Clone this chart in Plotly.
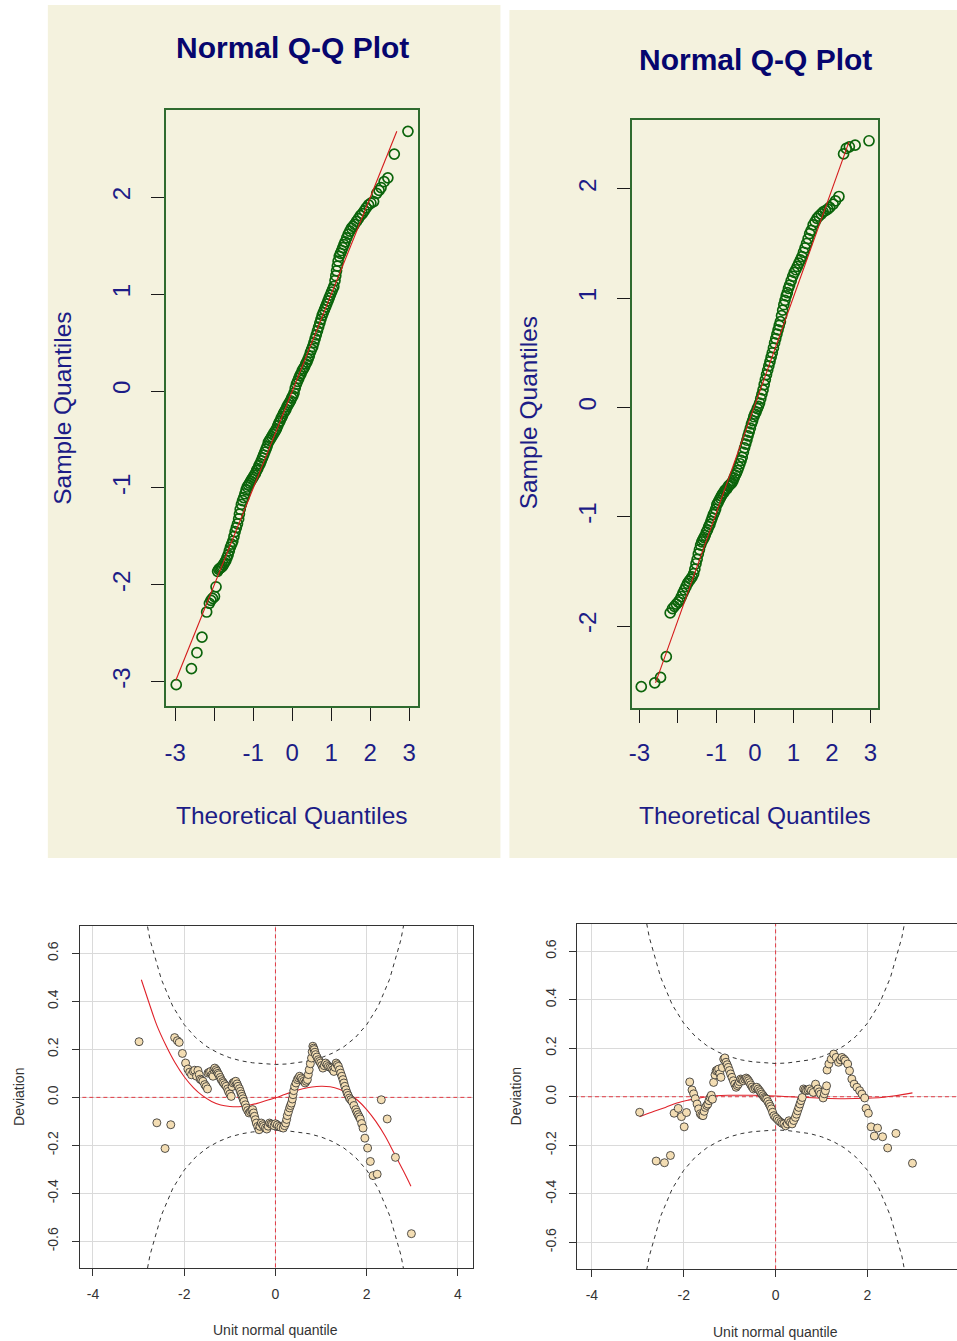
import plotly.graph_objects as go

W, H = 957, 1341

# ---------------- data ----------------
# Normal Q-Q plot, left: theoretical quantile / sample quantile
qq1_x = [-2.97, -2.58, -2.44, -2.31, -2.19, -2.12, -2.08, -2.04, -1.99, -1.95,
         -1.91, -1.88, -1.85, -1.82, -1.79, -1.76, -1.73, -1.70, -1.67, -1.64,
         -1.61, -1.58, -1.55, -1.52, -1.49, -1.46, -1.43, -1.40, -1.37, -1.35,
         -1.33, -1.30, -1.27, -1.24, -1.21, -1.18, -1.15, -1.12, -1.09, -1.06,
         -1.03, -1.00, -0.97, -0.94, -0.91, -0.88, -0.85, -0.82, -0.79, -0.76,
         -0.73, -0.70, -0.67, -0.64, -0.61, -0.58, -0.55, -0.52, -0.49, -0.46,
         -0.43, -0.40, -0.37, -0.34, -0.31, -0.28, -0.25, -0.22, -0.19, -0.16,
         -0.13, -0.10, -0.07, -0.04, -0.01, 0.02, 0.05, 0.08, 0.11, 0.14,
         0.17, 0.20, 0.23, 0.26, 0.29, 0.32, 0.35, 0.38, 0.41, 0.44,
         0.47, 0.50, 0.53, 0.56, 0.59, 0.62, 0.65, 0.68, 0.71, 0.74,
         0.77, 0.80, 0.83, 0.86, 0.89, 0.92, 0.95, 0.98, 1.01, 1.04,
         1.07, 1.10, 1.12, 1.14, 1.16, 1.18, 1.21, 1.24, 1.27, 1.30,
         1.33, 1.36, 1.40, 1.44, 1.48, 1.52, 1.56, 1.60, 1.65, 1.70,
         1.75, 1.80, 1.85, 1.90, 1.96, 2.02, 2.09, 2.17, 2.23, 2.28,
         2.36, 2.455, 2.62, 2.97]
qq1_y = [-3.03, -2.865, -2.70, -2.54, -2.28, -2.19, -2.16, -2.14, -2.12, -2.02,
         -1.86, -1.84, -1.83, -1.82, -1.81, -1.79, -1.77, -1.75, -1.72, -1.69,
         -1.65, -1.61, -1.58, -1.55, -1.50, -1.45, -1.41, -1.37, -1.32, -1.27,
         -1.22, -1.17, -1.13, -1.10, -1.06, -1.02, -0.99, -0.97, -0.95, -0.93,
         -0.91, -0.89, -0.87, -0.85, -0.82, -0.80, -0.77, -0.75, -0.72, -0.69,
         -0.66, -0.63, -0.60, -0.57, -0.53, -0.51, -0.49, -0.47, -0.45, -0.43,
         -0.41, -0.39, -0.36, -0.33, -0.31, -0.28, -0.26, -0.23, -0.21, -0.19,
         -0.16, -0.14, -0.12, -0.10, -0.07, -0.05, -0.02, 0.03, 0.07, 0.10,
         0.13, 0.16, 0.18, 0.21, 0.23, 0.25, 0.28, 0.30, 0.33, 0.36,
         0.40, 0.43, 0.46, 0.50, 0.54, 0.58, 0.62, 0.66, 0.70, 0.74,
         0.78, 0.81, 0.84, 0.87, 0.90, 0.93, 0.96, 0.99, 1.02, 1.05,
         1.08, 1.14, 1.19, 1.24, 1.29, 1.34, 1.39, 1.42, 1.45, 1.48,
         1.51, 1.54, 1.58, 1.62, 1.65, 1.68, 1.70, 1.72, 1.75, 1.78,
         1.81, 1.83, 1.86, 1.89, 1.92, 1.94, 1.955, 2.04, 2.07, 2.10,
         2.16, 2.20, 2.445, 2.68]
qq1_line_x = [-2.98, 2.685]
qq1_line_y = [-2.985, 2.68]

# Normal Q-Q plot, right
qq2_x = [-2.95, -2.60, -2.45, -2.30, -2.20, -2.14, -2.09, -2.04, -1.99, -1.95,
         -1.91, -1.87, -1.83, -1.79, -1.75, -1.71, -1.67, -1.63, -1.59, -1.56,
         -1.53, -1.50, -1.47, -1.44, -1.41, -1.38, -1.35, -1.32, -1.29, -1.26,
         -1.23, -1.20, -1.17, -1.14, -1.11, -1.08, -1.05, -1.02, -0.99, -0.96,
         -0.93, -0.90, -0.87, -0.84, -0.81, -0.78, -0.75, -0.72, -0.69, -0.66,
         -0.63, -0.60, -0.57, -0.54, -0.51, -0.48, -0.45, -0.42, -0.39, -0.36,
         -0.33, -0.30, -0.27, -0.24, -0.21, -0.18, -0.15, -0.12, -0.09, -0.06,
         -0.03, 0.00, 0.03, 0.06, 0.09, 0.12, 0.15, 0.18, 0.21, 0.24,
         0.27, 0.30, 0.33, 0.36, 0.39, 0.42, 0.45, 0.48, 0.51, 0.54,
         0.57, 0.60, 0.63, 0.66, 0.69, 0.72, 0.75, 0.78, 0.81, 0.84,
         0.87, 0.90, 0.94, 0.98, 1.02, 1.06, 1.10, 1.14, 1.18, 1.22,
         1.26, 1.30, 1.34, 1.38, 1.42, 1.46, 1.51, 1.56, 1.61, 1.66,
         1.72, 1.77, 1.83, 1.89, 1.94, 2.03, 2.09, 2.18, 2.30, 2.37,
         2.45, 2.60, 2.96]
qq2_y = [-2.555, -2.52, -2.47, -2.28, -1.88, -1.84, -1.82, -1.80, -1.78, -1.76,
         -1.73, -1.70, -1.67, -1.64, -1.61, -1.59, -1.57, -1.55, -1.52, -1.48,
         -1.43, -1.39, -1.34, -1.30, -1.26, -1.23, -1.21, -1.19, -1.17, -1.14,
         -1.12, -1.09, -1.07, -1.04, -1.01, -0.98, -0.96, -0.93, -0.89, -0.87,
         -0.85, -0.83, -0.81, -0.79, -0.78, -0.76, -0.75, -0.74, -0.72, -0.71,
         -0.70, -0.69, -0.67, -0.645, -0.62, -0.60, -0.575, -0.545, -0.515, -0.485,
         -0.455, -0.41, -0.37, -0.335, -0.30, -0.26, -0.225, -0.19, -0.15, -0.12,
         -0.085, -0.06, -0.04, -0.01, 0.01, 0.04, 0.08, 0.12, 0.16, 0.21,
         0.255, 0.30, 0.34, 0.38, 0.42, 0.46, 0.50, 0.545, 0.59, 0.63,
         0.67, 0.71, 0.75, 0.785, 0.84, 0.89, 0.94, 0.98, 1.02, 1.05,
         1.09, 1.12, 1.16, 1.20, 1.235, 1.26, 1.29, 1.32, 1.35, 1.38,
         1.42, 1.46, 1.50, 1.545, 1.59, 1.62, 1.67, 1.70, 1.73, 1.75,
         1.77, 1.79, 1.80, 1.815, 1.83, 1.86, 1.89, 1.93, 2.32, 2.37,
         2.385, 2.40, 2.44]
qq2_line_x = [-2.58, 2.44]
qq2_line_y = [-2.52, 2.43]

qq_xticks = [-3, -2, -1, 0, 1, 2, 3]
qq_xtext = ["-3", "", "-1", "0", "1", "2", "3"]
qq1_yticks = [-3, -2, -1, 0, 1, 2]
qq2_yticks = [-2, -1, 0, 1, 2]

# Worm plot, left: unit normal quantile / deviation
wl_x = [-2.99, -2.60, -2.42, -2.295, -2.21, -2.15, -2.11, -2.04, -1.97, -1.92,
        -1.88, -1.84, -1.80, -1.77, -1.73, -1.70, -1.67, -1.65, -1.62, -1.59,
        -1.55, -1.52, -1.49, -1.48, -1.45, -1.42, -1.39, -1.37, -1.35, -1.33,
        -1.30, -1.28, -1.26, -1.24, -1.21, -1.19, -1.16, -1.14, -1.11, -1.08,
        -1.05, -1.03, -1.00, -0.97, -0.95, -0.93, -0.90, -0.87, -0.84, -0.82,
        -0.79, -0.77, -0.75, -0.73, -0.71, -0.69, -0.66, -0.64, -0.61, -0.58,
        -0.55, -0.52, -0.50, -0.48, -0.46, -0.44, -0.42, -0.39, -0.36, -0.34,
        -0.31, -0.28, -0.26, -0.22, -0.19, -0.16, -0.13, -0.10, -0.07, -0.03,
        0.00, 0.04, 0.08, 0.12, 0.17, 0.20, 0.225, 0.245, 0.26, 0.285,
        0.31, 0.33, 0.35, 0.37, 0.385, 0.40, 0.42, 0.45, 0.48, 0.505,
        0.53, 0.56, 0.59, 0.62, 0.65, 0.675, 0.70, 0.72, 0.74, 0.765,
        0.79, 0.805, 0.82, 0.835, 0.85, 0.865, 0.88, 0.91, 0.94, 0.965,
        0.99, 1.015, 1.04, 1.07, 1.10, 1.13, 1.16, 1.195, 1.23, 1.255,
        1.28, 1.305, 1.33, 1.355, 1.38, 1.405, 1.43, 1.455, 1.48, 1.50,
        1.52, 1.545, 1.57, 1.595, 1.62, 1.65, 1.68, 1.72, 1.76, 1.785,
        1.81, 1.835, 1.86, 1.89, 1.92, 1.96, 2.02, 2.08, 2.14, 2.23,
        2.32, 2.45, 2.63, 2.98]
wl_y = [0.232, -0.106, -0.213, -0.114, 0.249, 0.236, 0.229, 0.183, 0.143, 0.118,
        0.105, 0.094, 0.108, 0.113, 0.088, 0.112, 0.095, 0.076, 0.072, 0.067,
        0.053, 0.045, 0.035, 0.101, 0.105, 0.108, 0.095, 0.088, 0.115, 0.122,
        0.115, 0.108, 0.100, 0.094, 0.083, 0.074, 0.066, 0.060, 0.053, 0.046,
        0.035, 0.025, 0.014, 0.004, 0.045, 0.060, 0.064, 0.067, 0.056, 0.046,
        0.036, 0.025, 0.014, 0.004, -0.006, -0.017, -0.031, -0.044, -0.055, -0.065,
        -0.060, -0.055, -0.051, -0.065, -0.079, -0.093, -0.107, -0.121, -0.135, -0.121,
        -0.107, -0.114, -0.121, -0.127, -0.132, -0.120, -0.107, -0.111, -0.114, -0.118,
        -0.110, -0.115, -0.121, -0.125, -0.128, -0.118, -0.107, -0.092, -0.076, -0.060,
        -0.044, -0.034, -0.024, -0.007, 0.011, 0.028, 0.046, 0.060, 0.074, 0.081,
        0.088, 0.081, 0.074, 0.067, 0.060, 0.067, 0.074, 0.095, 0.115, 0.140,
        0.164, 0.190, 0.213, 0.205, 0.199, 0.188, 0.178, 0.168, 0.157, 0.150,
        0.143, 0.133, 0.122, 0.132, 0.143, 0.136, 0.129, 0.125, 0.122, 0.115,
        0.108, 0.125, 0.143, 0.136, 0.129, 0.115, 0.101, 0.088, 0.074, 0.060,
        0.046, 0.032, 0.018, 0.008, -0.003, -0.010, -0.017, -0.034, -0.051, -0.062,
        -0.072, -0.081, -0.090, -0.109, -0.128, -0.170, -0.211, -0.267, -0.326, -0.320,
        -0.010, -0.090, -0.250, -0.568]
wl_fit_x = [-2.94, -2.8, -2.6, -2.4, -2.2, -2.0, -1.8, -1.6, -1.4, -1.2, -1.0, -0.8,
            -0.6, -0.4, -0.2, 0.0, 0.2, 0.4, 0.6, 0.8, 1.0, 1.2, 1.4, 1.6, 1.8,
            2.0, 2.2, 2.4, 2.6, 2.8, 2.97]
wl_fit_y = [0.49, 0.41, 0.30, 0.216, 0.144, 0.086, 0.041, 0.007, -0.017, -0.032, -0.038,
            -0.039, -0.034, -0.025, -0.013, -0.002, 0.012, 0.025, 0.036, 0.043, 0.046,
            0.044, 0.034, 0.016, -0.012, -0.051, -0.100, -0.160, -0.232, -0.305, -0.370]

# Worm plot, right
wr_x = [-2.96, -2.60, -2.42, -2.29, -2.21, -2.12, -2.05, -1.99, -1.94, -1.87,
        -1.82, -1.785, -1.75, -1.71, -1.675, -1.64, -1.61, -1.58, -1.555, -1.53,
        -1.50, -1.475, -1.45, -1.425, -1.40, -1.375, -1.35, -1.32, -1.295, -1.27,
        -1.24, -1.215, -1.19, -1.16, -1.13, -1.105, -1.08, -1.055, -1.03, -1.005,
        -0.98, -0.95, -0.92, -0.89, -0.86, -0.835, -0.81, -0.785, -0.76, -0.73,
        -0.70, -0.67, -0.64, -0.615, -0.59, -0.565, -0.54, -0.51, -0.48, -0.445,
        -0.41, -0.38, -0.35, -0.325, -0.30, -0.27, -0.245, -0.22, -0.195, -0.17,
        -0.14, -0.115, -0.09, -0.065, -0.035, 0.0, 0.035, 0.07, 0.11, 0.145,
        0.18, 0.22, 0.255, 0.29, 0.325, 0.36, 0.395, 0.43, 0.455, 0.48,
        0.505, 0.53, 0.555, 0.58, 0.61, 0.64, 0.67, 0.705, 0.74, 0.78,
        0.82, 0.87, 0.92, 0.95, 0.98, 1.035, 1.06, 1.085, 1.11, 1.12,
        1.16, 1.21, 1.265, 1.32, 1.37, 1.41, 1.445, 1.49, 1.52, 1.57,
        1.61, 1.66, 1.71, 1.77, 1.83, 1.88, 1.94, 1.97, 2.02, 2.08,
        2.15, 2.22, 2.33, 2.44, 2.62, 2.98]
wr_y = [-0.064, -0.265, -0.272, -0.242, -0.068, -0.048, -0.082, -0.124, -0.065, 0.061,
        0.028, 0.012, -0.008, -0.030, -0.050, -0.070, -0.076, -0.078, -0.060, -0.044,
        -0.036, -0.030, -0.016, -0.003, 0.006, -0.010, 0.059, 0.090, 0.107, 0.110,
        0.114, 0.095, 0.080, 0.120, 0.155, 0.160, 0.142, 0.132, 0.121, 0.108,
        0.094, 0.080, 0.066, 0.052, 0.039, 0.046, 0.052, 0.062, 0.073, 0.070,
        0.066, 0.072, 0.077, 0.072, 0.066, 0.058, 0.049, 0.040, 0.032, 0.036,
        0.039, 0.032, 0.025, 0.018, 0.011, 0.004, -0.003, -0.007, -0.010, -0.020,
        -0.030, -0.040, -0.050, -0.064, -0.078, -0.085, -0.092, -0.099, -0.105, -0.110,
        -0.112, -0.120, -0.112, -0.099, -0.106, -0.112, -0.098, -0.085, -0.072, -0.058,
        -0.044, -0.030, -0.016, -0.003, 0.032, 0.028, 0.025, 0.028, 0.032, 0.025,
        0.018, 0.052, 0.032, 0.020, 0.011, -0.005, 0.012, 0.025, 0.045, 0.110,
        0.135, 0.155, 0.176, 0.162, 0.142, 0.152, 0.162, 0.155, 0.148, 0.135,
        0.107, 0.073, 0.052, 0.039, 0.025, 0.011, -0.005, -0.048, -0.068, -0.124,
        -0.162, -0.129, -0.165, -0.211, -0.151, -0.274]
wr_fit_x = [-2.96, -2.7, -2.4, -2.15, -1.9, -1.6, -1.3, -1.0, -0.5, 0.0, 0.5, 1.0,
            1.5, 2.0, 2.3, 2.6, 2.98]
wr_fit_y = [-0.082, -0.064, -0.044, -0.026, -0.014, -0.003, 0.004, 0.006, 0.006, 0.003,
            -0.002, -0.006, -0.008, -0.006, -0.003, 0.004, 0.016]

# 95% bands of the worm plots
band_z = [-3.0, -2.75, -2.5, -2.25, -2.0, -1.75, -1.5, -1.25, -1.0, -0.75, -0.5, -0.25,
          0.0, 0.25, 0.5, 0.75, 1.0, 1.25, 1.5, 1.75, 2.0, 2.25, 2.5, 2.75, 3.0]
band_hi = [0.908, 0.657, 0.491, 0.379, 0.303, 0.249, 0.211, 0.184, 0.165, 0.152, 0.144,
           0.139, 0.137, 0.139, 0.144, 0.152, 0.165, 0.184, 0.211, 0.249, 0.303, 0.379,
           0.491, 0.657, 0.908]
band_lo = [-0.908, -0.657, -0.491, -0.379, -0.303, -0.249, -0.211, -0.184, -0.165, -0.152,
           -0.144, -0.139, -0.137, -0.139, -0.144, -0.152, -0.165, -0.184, -0.211, -0.249,
           -0.303, -0.379, -0.491, -0.657, -0.908]

# zero reference lines of the worm plots (clipped by the axes)
zero_span_x = [-5, 5]
zero_span_y = [-1, 1]
zero_pair = [0, 0]

worm_xticks = [-4, -2, 0, 2, 4]
worm_yticks = [-0.6, -0.4, -0.2, 0.0, 0.2, 0.4, 0.6]
worm_ytext = ["-0.6", "-0.4", "-0.2", "0.0", "0.2", "0.4", "0.6"]

# ---------------- styling ----------------
FONT = "Liberation Sans, Arial, sans-serif"
BEIGE = "#F4F2DE"
NAVY = "#1C1C86"
TITLE_NAVY = "#06066E"
QQ_GREEN = "#0B640B"
BOX_GREEN = "#2F6B2F"
LINE_RED = "#D41A1A"
WHEAT = "#F3DDB3"
ZERO_RED = "#E23A44"


def dom_x(a, b):
    return [a / W, min(b / W, 1.0)]


def dom_y(top, bottom):
    return [1 - bottom / H, 1 - top / H]


fig = go.Figure()

# Q-Q panels
for k, (qx, qy, lx, ly) in enumerate([(qq1_x, qq1_y, qq1_line_x, qq1_line_y),
                                      (qq2_x, qq2_y, qq2_line_x, qq2_line_y)]):
    xa, ya = ("x", "y") if k == 0 else ("x2", "y2")
    fig.add_trace(go.Scatter(x=qx, y=qy, mode="markers", xaxis=xa, yaxis=ya,
                             marker=dict(symbol="circle-open", size=10, color=QQ_GREEN,
                                         line=dict(width=1.7, color=QQ_GREEN)),
                             showlegend=False, hoverinfo="skip"))
    fig.add_trace(go.Scatter(x=lx, y=ly, mode="lines", xaxis=xa, yaxis=ya,
                             line=dict(color=LINE_RED, width=1.1),
                             showlegend=False, hoverinfo="skip"))

# worm panels
for k, (wx, wy, fx, fy) in enumerate([(wl_x, wl_y, wl_fit_x, wl_fit_y),
                                      (wr_x, wr_y, wr_fit_x, wr_fit_y)]):
    xa, ya = ("x3", "y3") if k == 0 else ("x4", "y4")
    fig.add_trace(go.Scatter(x=zero_pair, y=zero_span_y, mode="lines", xaxis=xa, yaxis=ya,
                             line=dict(color=ZERO_RED, width=1, dash="4px,3px"),
                             showlegend=False, hoverinfo="skip"))
    fig.add_trace(go.Scatter(x=zero_span_x, y=zero_pair, mode="lines", xaxis=xa, yaxis=ya,
                             line=dict(color=ZERO_RED, width=1, dash="4px,3px"),
                             showlegend=False, hoverinfo="skip"))
    for band in (band_hi, band_lo):
        fig.add_trace(go.Scatter(x=band_z, y=band, mode="lines", xaxis=xa, yaxis=ya,
                                 line=dict(color="#333333", width=1, dash="4px,4px"),
                                 showlegend=False, hoverinfo="skip"))
    fig.add_trace(go.Scatter(x=fx, y=fy, mode="lines", xaxis=xa, yaxis=ya,
                             line=dict(color="#E0232B", width=1.1, shape="spline"),
                             showlegend=False, hoverinfo="skip"))
    fig.add_trace(go.Scatter(x=wx, y=wy, mode="markers", xaxis=xa, yaxis=ya,
                             marker=dict(symbol="circle", size=8, color=WHEAT,
                                         line=dict(width=0.8, color="#2A2A2A")),
                             showlegend=False, hoverinfo="skip", cliponaxis=True))

qq_axis_common = dict(showgrid=False, zeroline=False, showline=True, linecolor=BOX_GREEN,
                      linewidth=2, mirror=True, ticks="outside", ticklen=13, tickwidth=1.3,
                      tickcolor="#1A1A1A", tickfont=dict(family=FONT, size=24, color=NAVY))
worm_axis_common = dict(showgrid=True, gridcolor="#DADADA", gridwidth=1, zeroline=False,
                        showline=True, linecolor="#333333", linewidth=1, ticks="outside",
                        ticklen=7, tickwidth=1, tickcolor="#333333",
                        tickfont=dict(family=FONT, size=14, color="#333333"))

fig.update_layout(
    width=W, height=H, margin=dict(l=0, r=0, t=0, b=0),
    paper_bgcolor="white", plot_bgcolor="rgba(0,0,0,0)",
    showlegend=False,
    xaxis=dict(domain=dom_x(164, 416), range=[-3.22, 3.22], anchor="y",
               tickvals=qq_xticks, ticktext=qq_xtext, ticklabelstandoff=11, **qq_axis_common),
    yaxis=dict(domain=dom_y(110, 706), range=[-3.25, 2.90], anchor="x",
               tickvals=qq1_yticks, ticktext=[str(v) for v in qq1_yticks], tickangle=-90,
               ticklabelstandoff=12, **qq_axis_common),
    xaxis2=dict(domain=dom_x(631, 878), range=[-3.19, 3.20], anchor="y2",
                tickvals=qq_xticks, ticktext=qq_xtext, ticklabelstandoff=9, **qq_axis_common),
    yaxis2=dict(domain=dom_y(120, 708), range=[-2.75, 2.63], anchor="x2",
                tickvals=qq2_yticks, ticktext=[str(v) for v in qq2_yticks], tickangle=-90,
                ticklabelstandoff=11, **qq_axis_common),
    xaxis3=dict(domain=dom_x(77, 471), range=[-4.29, 4.32], anchor="y3", mirror=True,
                tickvals=worm_xticks, ticktext=[str(v) for v in worm_xticks],
                ticklabelstandoff=6, **worm_axis_common),
    yaxis3=dict(domain=dom_y(926, 1268), range=[-0.711, 0.714], anchor="x3", mirror=True,
                tickvals=worm_yticks, ticktext=worm_ytext, tickangle=-90,
                ticklabelstandoff=8, **worm_axis_common),
    xaxis4=dict(domain=dom_x(576, 957), range=[-4.32, 3.95], anchor="y4", mirror=True,
                tickvals=worm_xticks, ticktext=[str(v) for v in worm_xticks],
                ticklabelstandoff=6, **worm_axis_common),
    yaxis4=dict(domain=dom_y(924, 1269), range=[-0.71, 0.712], anchor="x4", mirror=False,
                tickvals=worm_yticks, ticktext=worm_ytext, tickangle=-90,
                ticklabelstandoff=8, **worm_axis_common),
)

fig.update_layout(shapes=[
    dict(type="rect", xref="paper", yref="paper", x0=45 / W, x1=499 / W,
         y0=1 - 858 / H, y1=1 - 5 / H, fillcolor=BEIGE, line=dict(width=0), layer="below"),
    dict(type="rect", xref="paper", yref="paper", x0=508 / W, x1=1.0,
         y0=1 - 858 / H, y1=1 - 10 / H, fillcolor=BEIGE, line=dict(width=0), layer="below"),
])


def ann(text, x, y, size, color, bold=False, angle=0):
    return dict(text=("<b>%s</b>" % text) if bold else text, x=x / W, y=1 - y / H,
                xref="paper", yref="paper", xanchor="center", yanchor="middle",
                showarrow=False, textangle=angle,
                font=dict(family=FONT, size=size, color=color))


fig.update_layout(annotations=[
    ann("Normal Q-Q Plot", 290, 48, 30, TITLE_NAVY, bold=True),
    ann("Normal Q-Q Plot", 754.5, 59, 30, TITLE_NAVY, bold=True),
    ann("Theoretical Quantiles", 290, 815, 24.5, NAVY),
    ann("Theoretical Quantiles", 754, 815, 24.5, NAVY),
    ann("Sample Quantiles", 60, 408, 24.5, NAVY, angle=-90),
    ann("Sample Quantiles", 527, 413, 24.5, NAVY, angle=-90),
    ann("Deviation", 16, 1097, 14, "#333333", angle=-90),
    ann("Deviation", 515, 1096, 14, "#333333", angle=-90),
    ann("Unit normal quantile", 273, 1330, 14, "#333333"),
    ann("Unit normal quantile", 775, 1332, 14, "#333333"),
])

fig.write_html("out.html")
